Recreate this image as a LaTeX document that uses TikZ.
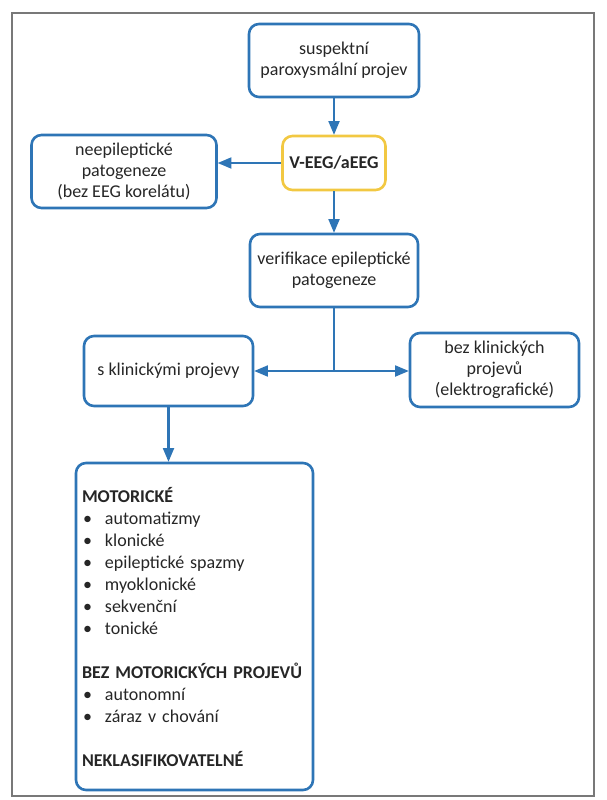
\documentclass[tikz,border=0pt]{standalone}
\usepackage{fontspec}
\setmainfont{Carlito}
\usetikzlibrary{arrows}

\definecolor{boxblue}{RGB}{46,117,182}
\definecolor{boxgold}{RGB}{242,200,66}
\definecolor{framegray}{RGB}{120,120,120}
\newcommand{\boxfont}{\fontsize{18}{21}\selectfont}
\newcommand{\bod}[1]{\makebox[23pt][l]{\hspace{1pt}\textbullet}#1}

\begin{document}
\begin{tikzpicture}[
                    ->,
                    >=triangle 45,
                    x=1pt, y=1pt,
                    node distance=105pt,
                    line width=2.2pt
                ]
                \tikzstyle{box}=[draw=boxblue,rectangle,rounded corners=10pt,line width=2.6pt,
                                 align=center,text=black!85,font=\boxfont,inner sep=4pt]

                \useasboundingbox (0,0) rectangle (606,-800);
                \draw[-,framegray,line width=1.2pt] (12,-13) rectangle (594,-796);

                \node[box,minimum width=170pt,minimum height=73pt] (susp) at (334,-60.5)
                     {suspektní\\paroxysmální projev};
                \node[box,draw=boxgold,minimum width=103pt,minimum height=54pt,font=\boxfont\bfseries,
                      node distance=102.5pt] (veeg) [below of=susp] {V-EEG/aEEG};
                \node[box,minimum width=185pt,minimum height=73pt,node distance=210pt,yshift=-8.5pt]
                     (neep) [left of=veeg] {neepileptické\\patogeneze\\(bez EEG korelátu)};
                \node[box,minimum width=168pt,minimum height=73pt,node distance=107.5pt]
                     (verif) [below of=veeg] {verifikace epileptické\\patogeneze};
                \node[box,minimum width=169pt,minimum height=70pt,node distance=100.5pt,xshift=-165.5pt]
                     (sklin) [below of=verif] {s klinickými projevy};
                \node[box,minimum width=169pt,minimum height=74pt,node distance=99.5pt,xshift=160.5pt]
                     (bez) [below of=verif] {bez klinických\\projevů\\(elektrografické)};
                \node[box,align=left,text width=225pt,inner xsep=6pt,minimum height=327pt,
                      node distance=255.5pt,xshift=26pt,font=\fontsize{18}{22}\selectfont]
                     (typy) [below of=sklin] {\textbf{MOTORICKÉ}\\
                                              \bod{automatizmy}\\
                                              \bod{klonické}\\
                                              \bod{epileptické spazmy}\\
                                              \bod{myoklonické}\\
                                              \bod{sekvenční}\\
                                              \bod{tonické}\\[22pt]
                                              \textbf{BEZ MOTORICKÝCH PROJEVŮ}\\
                                              \bod{autonomní}\\
                                              \bod{záraz v chování}\\[22pt]
                                              \textbf{NEKLASIFIKOVATELNÉ}};

                \coordinate (split) at (verif.south |- sklin.east);

                \path[boxblue]
                (susp)        edge (veeg)
                (veeg.west)   edge (veeg.west -| neep.east)
                (veeg)        edge (verif)
                (split)       edge (split -| sklin.east)
                (split)       edge (split -| bez.west)
                (sklin.south) edge (sklin.south |- typy.north)
                ;
                \draw[-,boxblue] (verif) -- (split);
            \end{tikzpicture}
\end{document}
